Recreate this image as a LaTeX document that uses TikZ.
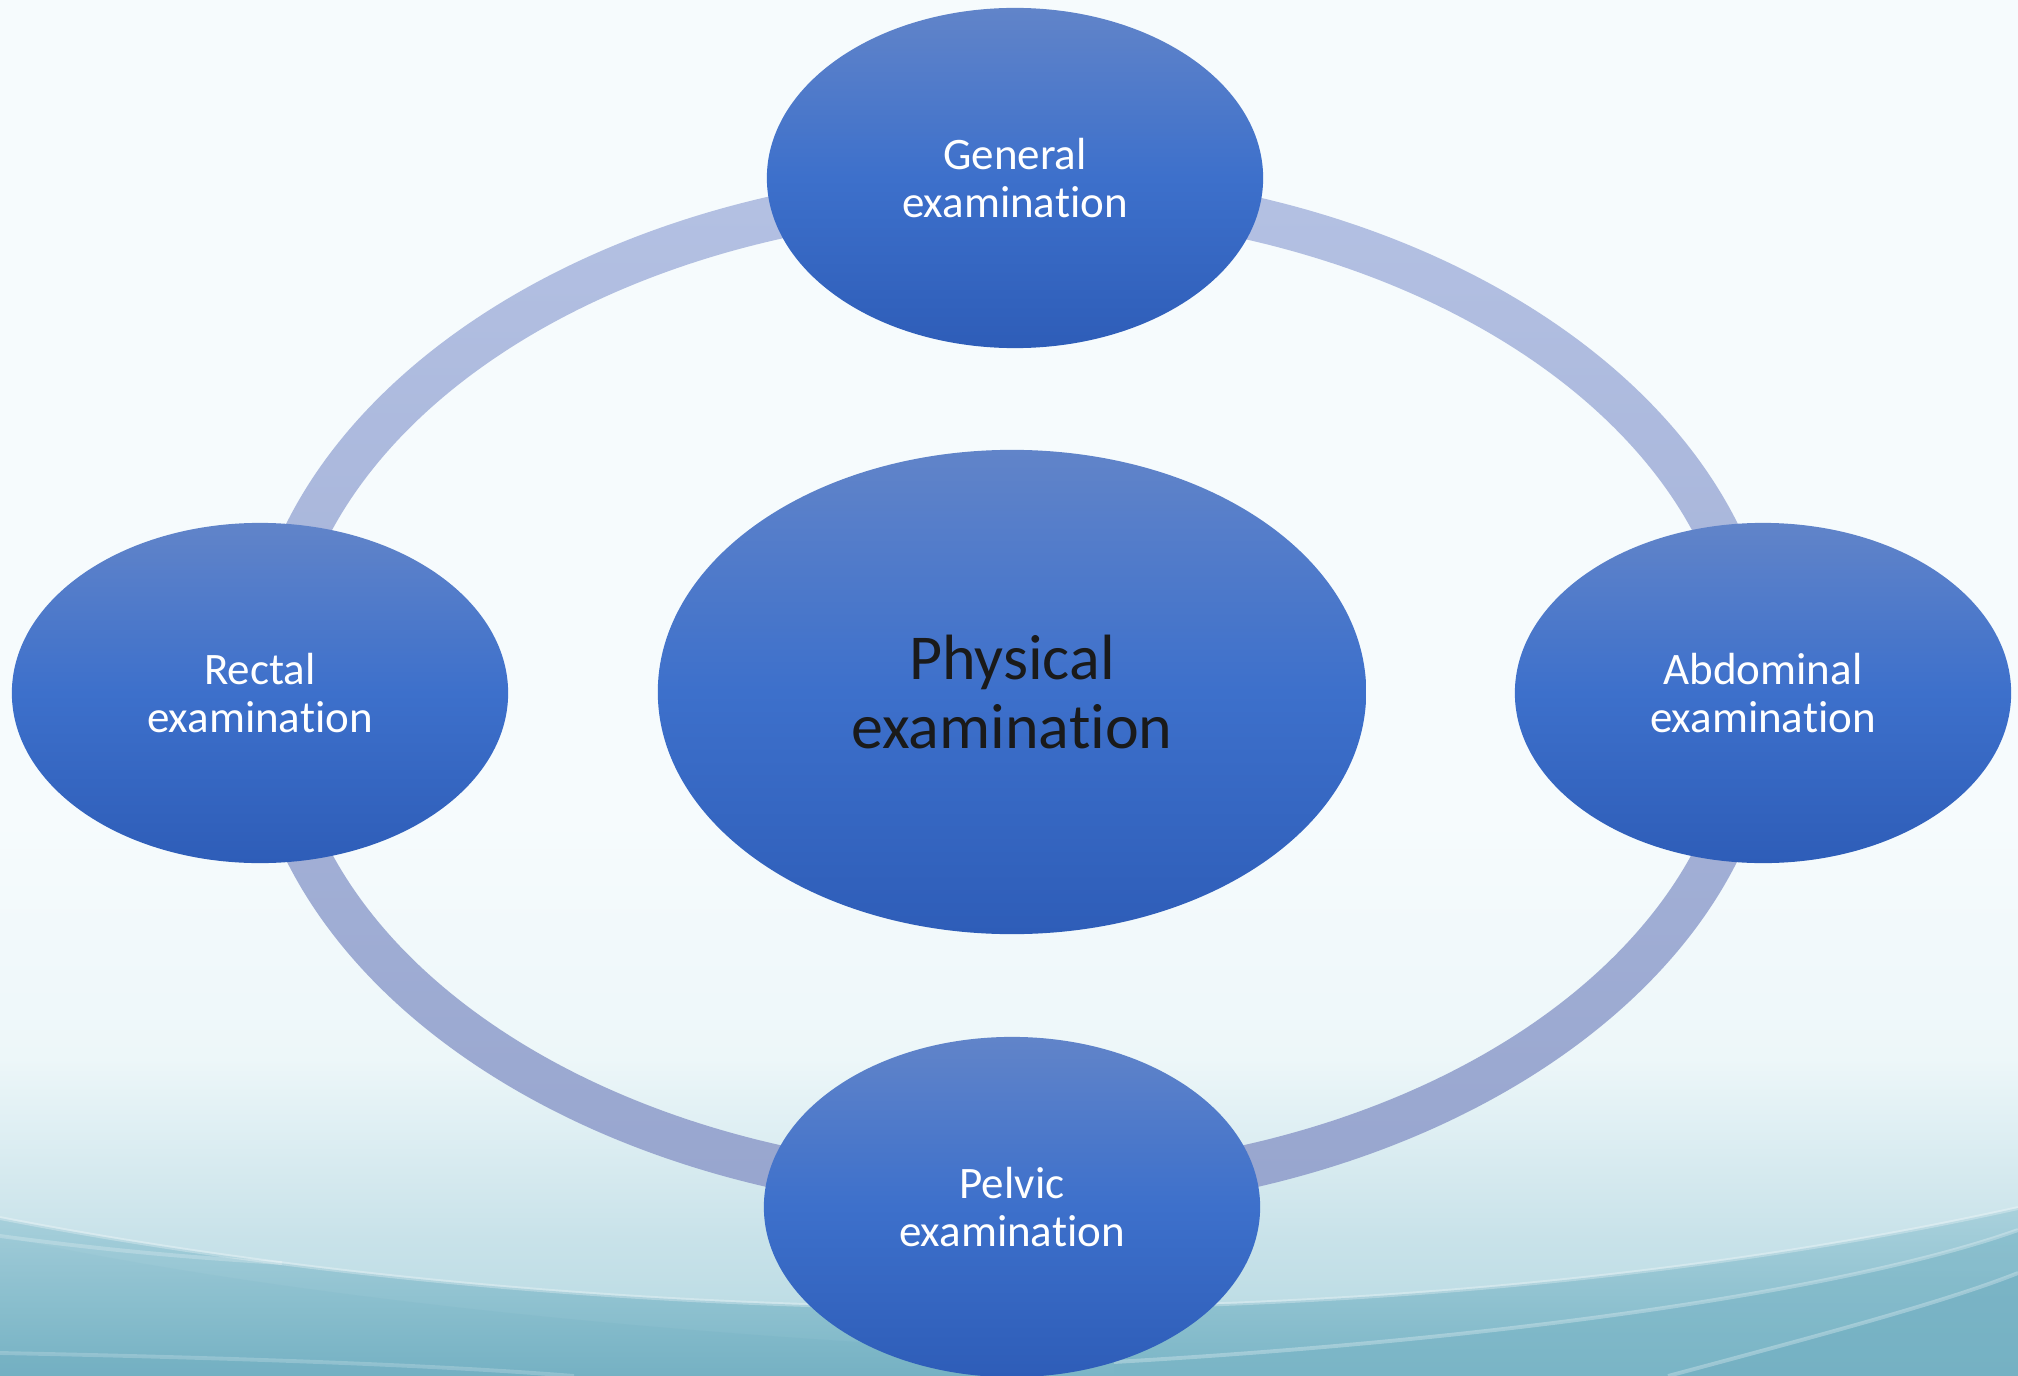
\documentclass[tikz,border=0pt]{standalone}
\usepackage{fontspec}
\setmainfont{Carlito}[RawFeature={-liga}]
\usetikzlibrary{shapes.geometric}

\definecolor{bgtop}{HTML}{F6FBFD}
\definecolor{bgmid}{HTML}{EDF7F9}
\definecolor{bglow}{HTML}{CAE3EA}
\definecolor{bgbot}{HTML}{B2D7E0}
\definecolor{wavehi}{HTML}{A9D1DC}
\definecolor{wavelo}{HTML}{7AB5C6}
\definecolor{wavedeep}{HTML}{82BACA}
\definecolor{wavedeeper}{HTML}{72AFC2}
\definecolor{ringtop}{HTML}{B4C1E3}
\definecolor{ringbot}{HTML}{97A5CE}
\definecolor{blobtop}{HTML}{6184C9}
\definecolor{blobmid}{HTML}{3D70CB}
\definecolor{blobbot}{HTML}{2E5DB8}
\definecolor{centertext}{HTML}{1A1A1A}

\tikzset{
  blob/.style={ellipse, inner sep=0pt, minimum width=4.96cm, minimum height=3.40cm,
    top color=blobtop, bottom color=blobbot, middle color=blobmid,
    text=white, align=center, font=\fontsize{12.8pt}{13.9pt}\selectfont},
  hub/.style={blob, minimum width=7.08cm, minimum height=4.84cm,
    text=centertext, font=\fontsize{18.2pt}{19.9pt}\selectfont},
  waveline/.style={white, opacity=0.28, line width=1.1pt},
}

\begin{document}
\begin{tikzpicture}[x=0.01cm, y=-0.01cm]
\useasboundingbox (0,0) rectangle (2018,1376);

% backdrop: pale sky fading into a teal floor
\fill[bgtop] (0,0) rectangle (2018,820);
\shade[top color=bgtop, bottom color=bgmid] (0,818) rectangle (2018,1060);
\shade[top color=bgmid, bottom color=bglow] (0,1058) rectangle (2018,1230);
\shade[top color=bglow, bottom color=bgbot] (0,1228) rectangle (2018,1376);

% wave bands along the bottom edge
\shade[top color=wavehi, bottom color=wavelo]
  (0,1218) .. controls (600,1335) and (1400,1345) .. (2018,1208)
  -- (2018,1376) -- (0,1376) -- cycle;
\shade[top color=wavehi!70!wavelo, bottom color=wavedeeper, opacity=0.6]
  (0,1236) .. controls (250,1290) and (600,1330) .. (1000,1350)
  -- (1000,1376) -- (0,1376) -- cycle;
\shade[top color=wavedeep, bottom color=wavelo, opacity=0.7]
  (1114,1376) -- (1114,1362) .. controls (1500,1340) and (1850,1290) .. (2018,1230)
  -- (2018,1376) -- cycle;
\fill[wavedeeper, opacity=0.55]
  (1668,1376) .. controls (1840,1330) and (1950,1300) .. (2018,1273)
  -- (2018,1376) -- cycle;
\fill[wavedeeper, opacity=0.35]
  (0,1353) .. controls (250,1358) and (450,1366) .. (574,1376) -- (0,1376) -- cycle;

% light streaks over the bands
\draw[waveline] (0,1218) .. controls (600,1335) and (1400,1345) .. (2018,1208);
\draw[waveline, opacity=0.22] (0,1236) .. controls (120,1252) and (200,1258) .. (282,1263);
\draw[waveline] (1114,1362) .. controls (1500,1340) and (1850,1290) .. (2018,1230);
\draw[waveline] (1668,1376) .. controls (1840,1330) and (1950,1300) .. (2018,1273);
\draw[waveline, opacity=0.2] (0,1353) .. controls (250,1358) and (450,1366) .. (574,1376);

% ring joining the four outer examinations
\coordinate (hubc) at (1012,692);
\shade[top color=ringtop, bottom color=ringbot, even odd rule]
  (hubc) ellipse [x radius=7.66cm, y radius=5.22cm]
  (hubc) ellipse [x radius=7.22cm, y radius=4.78cm];

% examinations
\node[hub]  (phys) at (hubc)      {Physical\\examination};
\node[blob] (gen)  at (1015,178)  {General\\examination};
\node[blob] (rect) at (260,693)   {Rectal\\examination};
\node[blob] (abd)  at (1763,693)  {Abdominal\\examination};
\node[blob] (pelv) at (1012,1207) {Pelvic\\examination};
\end{tikzpicture}
\end{document}
